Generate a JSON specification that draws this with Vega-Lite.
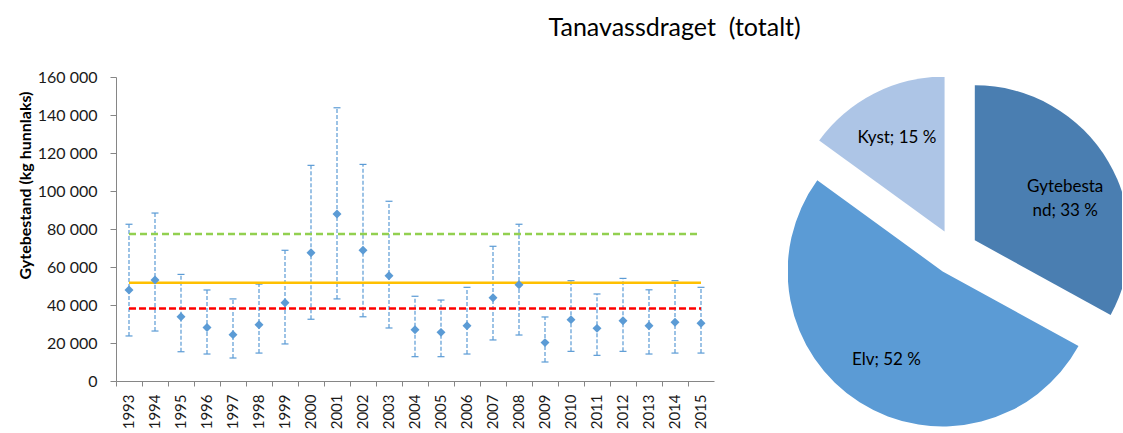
{
  "$schema": "https://vega.github.io/schema/vega-lite/v6.json",
  "padding": {"left": 17, "top": 16, "right": 0, "bottom": 0},
  "title": {"text": "Tanavassdraget\u00a0 (totalt)", "font": "Lato", "fontSize": 25, "fontWeight": "normal", "color": "#000000", "anchor": "middle", "dx": 105, "offset": 28},
  "config": {
    "font": "Lato",
    "view": {"stroke": null},
    "locale": {"number": {"decimal": ",", "thousands": " ", "grouping": [3], "currency": ["", " kr"]}},
    "axis": {"labelFont": "Lato", "labelFontSize": 16, "labelColor": "#1a1a1a", "domainColor": "#868686", "tickColor": "#868686", "grid": false, "labelOverlap": false},
    "axisY": {"labelOverlap": false, "tickSize": 6, "labelPadding": 13, "titlePadding": 4, "titleFont": "Lato", "titleFontSize": 16, "titleFontWeight": "bold", "titleColor": "#000000", "titleY": 108, "format": ",d"}
  },
  "spacing": 74,
  "hconcat": [
    {
      "width": 598,
      "height": 304,
      "data": {"values": [
        {"year": "1993", "value": 47900, "low": 23700, "high": 82500},
        {"year": "1994", "value": 53200, "low": 26300, "high": 88400},
        {"year": "1995", "value": 33800, "low": 15400, "high": 56100},
        {"year": "1996", "value": 28200, "low": 14200, "high": 47900},
        {"year": "1997", "value": 24400, "low": 12100, "high": 43200},
        {"year": "1998", "value": 29600, "low": 14700, "high": 51000},
        {"year": "1999", "value": 41200, "low": 19500, "high": 68800},
        {"year": "2000", "value": 67500, "low": 32500, "high": 113500},
        {"year": "2001", "value": 87900, "low": 43200, "high": 143800},
        {"year": "2002", "value": 68800, "low": 33800, "high": 114000},
        {"year": "2003", "value": 55400, "low": 27900, "high": 94600},
        {"year": "2004", "value": 27000, "low": 12800, "high": 44600},
        {"year": "2005", "value": 25600, "low": 12800, "high": 42600},
        {"year": "2006", "value": 29100, "low": 14200, "high": 49300},
        {"year": "2007", "value": 43800, "low": 21600, "high": 70900},
        {"year": "2008", "value": 50700, "low": 24200, "high": 82500},
        {"year": "2009", "value": 20200, "low": 10000, "high": 33700},
        {"year": "2010", "value": 32300, "low": 15600, "high": 52800},
        {"year": "2011", "value": 27700, "low": 13500, "high": 45800},
        {"year": "2012", "value": 31700, "low": 15600, "high": 54000},
        {"year": "2013", "value": 29100, "low": 14200, "high": 48000},
        {"year": "2014", "value": 30900, "low": 14700, "high": 52800},
        {"year": "2015", "value": 30400, "low": 14700, "high": 49300}
      ]},
      "encoding": {
        "x": {"field": "year", "type": "ordinal", "scale": {"paddingInner": 0, "paddingOuter": 0},
          "axis": {"title": null, "labelAngle": 270, "bandPosition": 0, "tickSize": 5, "labelPadding": 8, "labelFontSize": 15}}
      },
      "layer": [
        {
          "mark": {"type": "rule", "color": "#5B9BD5", "strokeDash": [4, 2], "strokeWidth": 1.2},
          "encoding": {
            "y": {"field": "low", "type": "quantitative", "scale": {"domain": [0, 160000], "nice": false},
              "axis": {"title": "Gytebestand (kg hunnlaks)", "values": [0, 20000, 40000, 60000, 80000, 100000, 120000, 140000, 160000]}},
            "y2": {"field": "high"}
          }
        },
        {
          "mark": {"type": "tick", "color": "#5B9BD5", "size": 7, "thickness": 1.2, "opacity": 1},
          "encoding": {"y": {"field": "low", "type": "quantitative",
            "axis": {"title": "Gytebestand (kg hunnlaks)", "values": [0, 20000, 40000, 60000, 80000, 100000, 120000, 140000, 160000]}}}
        },
        {
          "mark": {"type": "tick", "color": "#5B9BD5", "size": 7, "thickness": 1.2, "opacity": 1},
          "encoding": {"y": {"field": "high", "type": "quantitative",
            "axis": {"title": "Gytebestand (kg hunnlaks)", "values": [0, 20000, 40000, 60000, 80000, 100000, 120000, 140000, 160000]}}}
        },
        {
          "data": {"values": [
            {"year": "1993", "level": "ovre", "value": 77400},
            {"year": "2015", "level": "ovre", "value": 77400},
            {"year": "1993", "level": "gbm", "value": 51700},
            {"year": "2015", "level": "gbm", "value": 51700},
            {"year": "1993", "level": "nedre", "value": 38200},
            {"year": "2015", "level": "nedre", "value": 38200}
          ]},
          "mark": {"type": "line", "strokeWidth": 2.5},
          "encoding": {
            "y": {"field": "value", "type": "quantitative",
              "axis": {"title": "Gytebestand (kg hunnlaks)", "values": [0, 20000, 40000, 60000, 80000, 100000, 120000, 140000, 160000]}},
            "color": {"field": "level", "type": "nominal", "scale": {"domain": ["ovre", "gbm", "nedre"], "range": ["#92D050", "#FFC000", "#FF0000"]}, "legend": null},
            "strokeDash": {"field": "level", "type": "nominal", "scale": {"domain": ["ovre", "gbm", "nedre"], "range": [[7, 4], [1, 0], [7, 3]]}, "legend": null}
          }
        },
        {
          "mark": {"type": "point", "shape": "diamond", "filled": true, "color": "#5B9BD5", "size": 80, "opacity": 1},
          "encoding": {"y": {"field": "value", "type": "quantitative",
            "axis": {"title": "Gytebestand (kg hunnlaks)", "values": [0, 20000, 40000, 60000, 80000, 100000, 120000, 140000, 160000]}}}
        }
      ],
      "resolve": {"scale": {"color": "independent"}}
    },
    {
      "width": 334,
      "height": 350,
      "data": {"values": [
        {"part": "Gytebestand", "share": 33, "label": "Gytebesta\nnd; 33 %"},
        {"part": "Elv", "share": 52, "label": "Elv; 52 %"},
        {"part": "Kyst", "share": 15, "label": "Kyst; 15 %"}
      ]},
      "transform": [
        {"stack": "share", "groupby": [], "as": ["s0", "s1"]},
        {"calculate": "(datum.s0 + datum.s1) / 2", "as": "mid"}
      ],
      "layer": [
        {
          "mark": {"type": "arc", "radius": 155, "clip": true,
            "xOffset": {"expr": "23 * sin(PI * (datum.s0 + datum.s1) / 100)"},
            "yOffset": {"expr": "-23 * cos(PI * (datum.s0 + datum.s1) / 100)"}},
          "encoding": {
            "theta": {"field": "s0", "type": "quantitative", "stack": null, "scale": {"domain": [0, 100], "range": [0, 6.283185307]}},
            "theta2": {"field": "s1"},
            "color": {"field": "part", "type": "nominal", "scale": {"domain": ["Gytebestand", "Elv", "Kyst"], "range": ["#4A7EB1", "#5B9BD5", "#ADC5E6"]}, "legend": null}
          }
        },
        {
          "mark": {"type": "text", "radius": 105, "font": "Lato", "fontSize": 17, "lineHeight": 24, "color": "#000000", "lineBreak": "\n",
            "xOffset": {"expr": "23 * sin(PI * (datum.s0 + datum.s1) / 100)"},
            "yOffset": {"expr": "-23 * cos(PI * (datum.s0 + datum.s1) / 100)"}},
          "encoding": {
            "theta": {"field": "mid", "type": "quantitative", "stack": null},
            "text": {"field": "label", "type": "nominal"}
          }
        }
      ]
    }
  ]
}
